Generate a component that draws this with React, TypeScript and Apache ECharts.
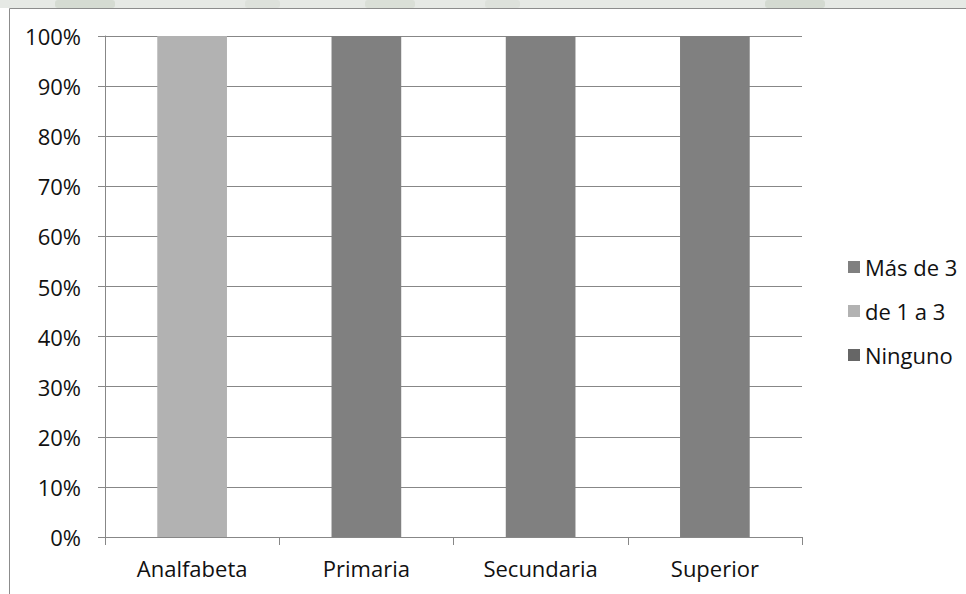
import React, { useEffect, useRef } from "react";
import * as echarts from "echarts";

// Nivel educativo del jefe de hogar
const categories = ["Analfabeta", "Primaria", "Secundaria", "Superior"];
const ninguno = [0, 0, 0, 0];
const deUnoATres = [100, 0, 0, 0];
const masDeTres = [0, 100, 100, 100];
const legendOrder = ["Más de 3", "de 1 a 3", "Ninguno"];

const FONT = "Open Sans";
const AXIS_GRAY = "#878787";

export default function App() {
  const ref = useRef<HTMLDivElement>(null);

  useEffect(() => {
    if (!ref.current) return;
    const chart = echarts.init(ref.current, null, { renderer: "svg" });

    const textStyle = { fontFamily: FONT, fontSize: 22, color: "#111" };

    chart.setOption({
      animation: false,
      backgroundColor: "#ffffff",
      textStyle: { fontFamily: FONT },
      graphic: [
        // faint header strip above the frame
        { type: "rect", shape: { x: 0, y: 0, width: 966, height: 8 }, style: { fill: "#e6e9e5" }, z: 0 },
        { type: "rect", shape: { x: 55, y: 0, width: 60, height: 8, r: 3 }, style: { fill: "#d5dbd2" }, z: 1 },
        { type: "rect", shape: { x: 245, y: 0, width: 35, height: 8, r: 3 }, style: { fill: "#dde1db" }, z: 1 },
        { type: "rect", shape: { x: 365, y: 0, width: 50, height: 8, r: 3 }, style: { fill: "#dadfd7" }, z: 1 },
        { type: "rect", shape: { x: 485, y: 0, width: 35, height: 8, r: 3 }, style: { fill: "#dde1db" }, z: 1 },
        { type: "rect", shape: { x: 765, y: 0, width: 60, height: 8, r: 3 }, style: { fill: "#d4dad1" }, z: 1 },
        // chart frame
        { type: "line", shape: { x1: 9.5, y1: 8.5, x2: 966, y2: 8.5 }, style: { stroke: "#8c8c8c", lineWidth: 1 }, z: 2 },
        { type: "line", shape: { x1: 9.5, y1: 8.5, x2: 9.5, y2: 594 }, style: { stroke: "#8c8c8c", lineWidth: 1 }, z: 2 },
      ],
      legend: {
        orient: "vertical",
        left: 843,
        top: 251,
        data: legendOrder,
        itemWidth: 12,
        itemHeight: 12,
        itemGap: 22,
        icon: "rect",
        selectedMode: false,
        textStyle: { ...textStyle, lineHeight: 22 },
      },
      grid: { left: 105, right: 164, top: 36, bottom: 57, containLabel: false },
      xAxis: {
        type: "category",
        data: categories,
        boundaryGap: true,
        axisLine: { show: true, lineStyle: { color: AXIS_GRAY, width: 1 } },
        axisTick: { show: true, length: 8, interval: 0, alignWithLabel: false, lineStyle: { color: AXIS_GRAY } },
        axisLabel: { ...textStyle, margin: 20, interval: 0 },
        splitLine: { show: false },
      },
      yAxis: {
        type: "value",
        min: 0,
        max: 100,
        interval: 10,
        axisLine: { show: true, lineStyle: { color: AXIS_GRAY, width: 1 } },
        axisTick: { show: true, length: 7, lineStyle: { color: AXIS_GRAY } },
        axisLabel: { ...textStyle, margin: 24, formatter: "{value}%" },
        splitLine: { show: true, lineStyle: { color: AXIS_GRAY, width: 1 } },
      },
      series: [
        { name: "Ninguno", type: "bar", stack: "total", data: ninguno, barWidth: "40%", itemStyle: { color: "#666666" } },
        { name: "de 1 a 3", type: "bar", stack: "total", data: deUnoATres, barWidth: "40%", itemStyle: { color: "#b2b2b2" } },
        { name: "Más de 3", type: "bar", stack: "total", data: masDeTres, barWidth: "40%", itemStyle: { color: "#808080" } },
      ],
    });

    return () => chart.dispose();
  }, []);

  return (
    <div
      ref={ref}
      style={{ position: "absolute", left: 0, top: 0, width: 966, height: 594 }}
    />
  );
}
